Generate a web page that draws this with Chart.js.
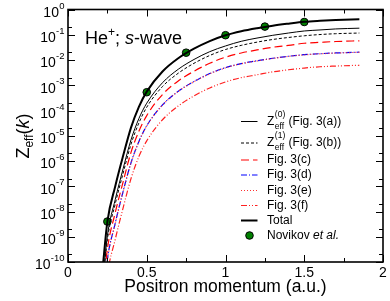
<!DOCTYPE html>
<html><head><meta charset="utf-8">
<script src="https://cdn.jsdelivr.net/npm/chart.js@4/dist/chart.umd.min.js"></script>
<style>html,body{margin:0;padding:0;background:#fff;}canvas{display:block;}</style>
</head><body>
<canvas id="c" width="390" height="301"></canvas>
<script>
// ---- data ----
const momentum = [0.22,0.25,0.3,0.35,0.4,0.45,0.5,0.6,0.7,0.8,0.9,1.0,1.1,1.2,1.3,1.4,1.5,1.6,1.7,1.85];
const total = [5.6e-11,4.0e-9,1.0e-7,1.6e-6,2.1e-5,1.4e-4,5.6e-4,3.5e-3,1.17e-2,2.8e-2,5.6e-2,9.5e-2,0.138,0.182,0.229,0.275,0.324,0.355,0.38,0.407];
const zeff0 = [1.6e-11,1.1e-9,3.0e-8,5.0e-7,6.9e-6,4.8e-5,1.95e-4,1.26e-3,4.3e-3,1.05e-2,2.14e-2,3.6e-2,5.5e-2,7.4e-2,9.5e-2,0.117,0.141,0.155,0.17,0.182];
const zeff1 = [1.07e-11,7.6e-10,2.0e-8,3.3e-7,4.6e-6,3.2e-5,1.35e-4,8.9e-4,3.0e-3,7.4e-3,1.51e-2,2.6e-2,3.8e-2,5.1e-2,6.5e-2,7.8e-2,9.1e-2,0.102,0.11,0.117];
const fig3c = [5e-12,3.2e-10,9e-9,1.5e-7,2.2e-6,1.5e-5,6.3e-5,4.3e-4,1.48e-3,3.6e-3,7.4e-3,1.29e-2,1.9e-2,2.5e-2,3.2e-2,3.8e-2,4.6e-2,5.0e-2,5.4e-2,5.75e-2];
const fig3d = [2e-12,1.26e-10,3.5e-9,6.3e-8,8.5e-7,5.9e-6,2.5e-5,1.66e-4,5.8e-4,1.41e-3,2.9e-3,5.0e-3,7.2e-3,9.3e-3,1.17e-2,1.41e-2,1.62e-2,1.78e-2,1.9e-2,2.04e-2];
const fig3e = [1.9e-12,1.2e-10,3.4e-9,6.1e-8,8.3e-7,5.8e-6,2.45e-5,1.63e-4,5.7e-4,1.39e-3,2.85e-3,4.9e-3,7.1e-3,9.2e-3,1.15e-2,1.39e-2,1.6e-2,1.76e-2,1.88e-2,2.02e-2];
const fig3f = [5e-13,3.2e-11,7.9e-10,1.4e-8,2.0e-7,1.5e-6,6.3e-6,4.3e-5,1.51e-4,3.8e-4,7.8e-4,1.35e-3,2.0e-3,2.6e-3,3.4e-3,4.1e-3,4.8e-3,5.4e-3,5.75e-3,6.2e-3];
const novikovK = [0.25,0.5,0.75,1.0,1.25,1.5];
const novikovZ = [4.0e-9,5.3e-4,1.95e-2,9.6e-2,0.21,0.32];
const xTickValues = [0,0.5,1,1.5,2];
const xTickLabels = ['0','0.5','1','1.5','2'];
const xMinorTicks = [0.25,0.75,1.25,1.75];
const yTickExponents = [0,-1,-2,-3,-4,-5,-6,-7,-8,-9,-10];

const FONT = '"Liberation Sans", Arial, Helvetica, sans-serif';
const pts = (xs, ys) => xs.map((v,i)=>({x:v,y:ys[i]}));

const series = [
  {label:'zeff0', data:pts(momentum,zeff0), borderColor:'#000', borderWidth:1, borderDash:[]},
  {label:'zeff1', data:pts(momentum,zeff1), borderColor:'#000', borderWidth:1, borderDash:[3,2]},
  {label:'Fig. 3(c)', data:pts(momentum,fig3c), borderColor:'#ff0000', borderWidth:1.2, borderDash:[8,4]},
  {label:'Fig. 3(e)', data:pts(momentum,fig3e), borderColor:'#ff3030', borderWidth:1.2, borderDash:[1,2]},
  {label:'Fig. 3(d)', data:pts(momentum,fig3d), borderColor:'#0000ff', borderWidth:1.2, borderDash:[6,2,1,2]},
  {label:'Fig. 3(f)', data:pts(momentum,fig3f), borderColor:'#ff2020', borderWidth:1.2, borderDash:[6,2,1,2,1,2]},
  {label:'Total', data:pts(momentum,total), borderColor:'#000', borderWidth:2, borderDash:[]},
];
const datasets = series.map(s=>Object.assign({fill:false,pointRadius:0,cubicInterpolationMode:'monotone'},s));
datasets.push({label:'Novikov', data:pts(novikovK,novikovZ), showLine:false, pointRadius:3.8,
  pointBackgroundColor:'#008000', pointBorderColor:'#000', pointBorderWidth:1});

function styleOf(lbl){ return datasets.find(d=>d.label===lbl); }

const decor = {
  id:'decor',
  afterDatasetsDraw(chart){
    const {ctx, chartArea:a, scales:{x,y}} = chart;
    ctx.save();
    ctx.strokeStyle='#000';
    ctx.lineWidth=1;
    // x ticks
    const xt = xTickValues.map(v=>[v,7]).concat(xMinorTicks.map(v=>[v,4]));
    xt.forEach(([v,len])=>{
      const px = Math.round(x.getPixelForValue(v))+0.5;
      ctx.beginPath();
      ctx.moveTo(px,a.bottom); ctx.lineTo(px,a.bottom-len);
      ctx.moveTo(px,a.top); ctx.lineTo(px,a.top+len);
      ctx.stroke();
    });
    // y ticks
    yTickExponents.forEach(n=>{
      const vals = [[Math.pow(10,n),7]];
      if (n<0) vals.push([2*Math.pow(10,n),4]);
      vals.forEach(([v,len])=>{
        const py = Math.round(y.getPixelForValue(v))+0.5;
        ctx.beginPath();
        ctx.moveTo(a.left,py); ctx.lineTo(a.left+len,py);
        ctx.moveTo(a.right,py); ctx.lineTo(a.right-len,py);
        ctx.stroke();
      });
    });
    // frame
    ctx.lineWidth=1.6;
    ctx.strokeRect(a.left,a.top,a.right-a.left,a.bottom-a.top);
    // x tick labels
    ctx.fillStyle='#000';
    ctx.font='14px '+FONT;
    ctx.textAlign='center'; ctx.textBaseline='middle';
    xTickValues.forEach((v,i)=>{
      ctx.fillText(xTickLabels[i], x.getPixelForValue(v), a.bottom+11);
    });
    // y tick labels 10^n
    yTickExponents.forEach(n=>{
      const py = y.getPixelForValue(Math.pow(10,n));
      const exp = String(n);
      ctx.font='9.5px '+FONT;
      const ew = ctx.measureText(exp).width;
      const right = a.left-3.5;
      ctx.textAlign='left';
      ctx.fillText(exp, right-ew, py-3.5);
      ctx.font='14px '+FONT;
      ctx.textAlign='right';
      ctx.fillText('10', right-ew-0.3, py+3.5);
    });
    // x axis title
    ctx.font='17.5px '+FONT;
    ctx.textAlign='center'; ctx.textBaseline='middle';
    ctx.fillText('Positron momentum (a.u.)', (a.left+a.right)/2, 287);
    // y axis title Z_eff(k) rotated
    ctx.save();
    ctx.translate(29, 136);
    ctx.rotate(-Math.PI/2);
    ctx.textBaseline='alphabetic'; ctx.textAlign='left';
    const p1='Z', p2='eff', p3='(', p4='k', p5=')';
    ctx.font='18px '+FONT; const w1=ctx.measureText(p1).width;
    ctx.font='12px '+FONT; const w2=ctx.measureText(p2).width;
    ctx.font='18px '+FONT; const w3=ctx.measureText(p3).width;
    ctx.font='italic 18px '+FONT; const w4=ctx.measureText(p4).width;
    ctx.font='18px '+FONT; const w5=ctx.measureText(p5).width;
    let tx = -(w1+w2+w3+w4+w5)/2;
    ctx.font='18px '+FONT; ctx.fillText(p1,tx,0); tx+=w1;
    ctx.font='12px '+FONT; ctx.fillText(p2,tx,4); tx+=w2;
    ctx.font='18px '+FONT; ctx.fillText(p3,tx,0); tx+=w3;
    ctx.font='italic 18px '+FONT; ctx.fillText(p4,tx,0); tx+=w4;
    ctx.font='18px '+FONT; ctx.fillText(p5,tx,0);
    ctx.restore();
    // inner title He+; s-wave
    ctx.textAlign='left'; ctx.textBaseline='alphabetic';
    let hx = 85; const hy = 44;
    ctx.font='18px '+FONT; ctx.fillText('He',hx,hy); hx+=ctx.measureText('He').width;
    ctx.font='12px '+FONT; ctx.fillText('+',hx,hy-8); hx+=ctx.measureText('+').width;
    ctx.font='18px '+FONT; ctx.fillText('; ',hx,hy); hx+=ctx.measureText('; ').width;
    ctx.font='italic 18px '+FONT; ctx.fillText('s',hx,hy); hx+=ctx.measureText('s').width;
    ctx.font='18px '+FONT; ctx.fillText('-wave',hx,hy);
    // legend
    const lx0=241, lx1=257.5, tx0=267;
    const rows = [
      {ds:'zeff0', y:121.5, sup:'(0)'},
      {ds:'zeff1', y:143, sup:'(1)'},
      {ds:'Fig. 3(c)', y:160, text:'Fig. 3(c)'},
      {ds:'Fig. 3(d)', y:175, text:'Fig. 3(d)'},
      {ds:'Fig. 3(e)', y:190.5, text:'Fig. 3(e)'},
      {ds:'Fig. 3(f)', y:205.5, text:'Fig. 3(f)'},
      {ds:'Total', y:220.5, text:'Total'},
    ];
    rows.forEach(r=>{
      const d = styleOf(r.ds);
      ctx.save();
      ctx.strokeStyle=d.borderColor; ctx.lineWidth=d.borderWidth; ctx.setLineDash(d.borderDash||[]);
      ctx.beginPath(); ctx.moveTo(lx0,r.y); ctx.lineTo(lx1,r.y); ctx.stroke();
      ctx.restore();
      ctx.fillStyle='#000'; ctx.textBaseline='middle'; ctx.textAlign='left';
      if (r.sup){
        let px=tx0;
        ctx.font='12px '+FONT; ctx.fillText('Z',px,r.y); px+=ctx.measureText('Z').width+0.5;
        ctx.font='8.5px '+FONT;
        ctx.fillText(r.sup,px,r.y-7);
        ctx.fillText('eff',px,r.y+5);
        px+=Math.max(ctx.measureText(r.sup).width,ctx.measureText('eff').width);
        ctx.font='12px '+FONT; ctx.fillText(' (Fig. 3('+(r.sup==='(0)'?'a':'b')+'))',px,r.y);
      } else {
        ctx.font='12px '+FONT; ctx.fillText(r.text,tx0,r.y);
      }
    });
    // Novikov legend entry
    const ny=235.5;
    ctx.beginPath(); ctx.arc(249.5,ny,3.8,0,Math.PI*2);
    ctx.fillStyle='#008000'; ctx.fill(); ctx.lineWidth=1; ctx.strokeStyle='#000'; ctx.stroke();
    ctx.fillStyle='#000'; ctx.textBaseline='middle'; ctx.textAlign='left';
    ctx.font='12px '+FONT; ctx.fillText('Novikov ',tx0,ny);
    let nx = tx0+ctx.measureText('Novikov ').width;
    ctx.font='italic 12px '+FONT; ctx.fillText('et al.',nx,ny);
    ctx.restore();
  }
};

new Chart(document.getElementById('c'), {
  type:'line',
  data:{datasets},
  options:{
    responsive:false, animation:false, devicePixelRatio:1,
    layout:{padding:{left:68,right:7,top:9.5,bottom:39}},
    plugins:{legend:{display:false}, tooltip:{enabled:false}},
    scales:{
      x:{type:'linear',min:0,max:2,ticks:{display:false},grid:{display:false,drawTicks:false},border:{display:false}},
      y:{type:'logarithmic',min:1e-10,max:1,ticks:{display:false},grid:{display:false,drawTicks:false},border:{display:false}}
    }
  },
  plugins:[decor]
});
</script>
</body></html>
